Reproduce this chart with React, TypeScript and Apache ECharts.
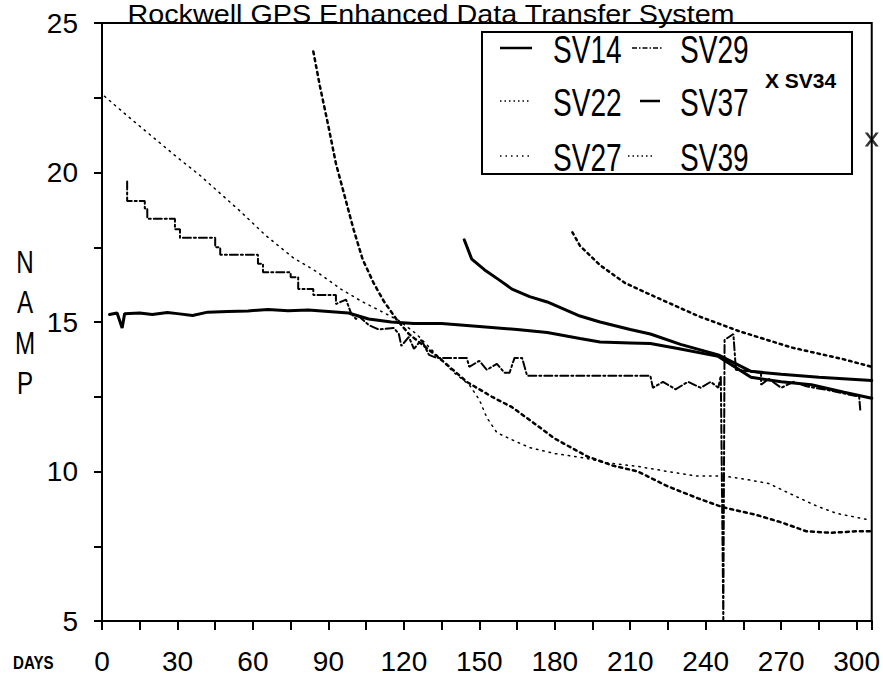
import React, { useEffect, useRef } from "react";
import * as echarts from "echarts";

const X_TICK_LABELS = [0, 30, 60, 90, 120, 150, 180, 210, 240, 270, 300];
const Y_TICK_LABELS = [5, 10, 15, 20, 25];
const TITLE = "Rockwell GPS Enhanced Data Transfer System";

const SV14: [number, number][] = [
  [3, 15.25], [6, 15.3], [8, 14.8], [9, 15.28], [15, 15.3], [20, 15.25], [26, 15.32], [30, 15.28],
  [36, 15.22], [42, 15.33], [50, 15.35], [58, 15.37], [66, 15.42], [74, 15.38], [82, 15.4], [90, 15.35],
  [98, 15.3], [106, 15.1], [115, 15.0], [124, 14.95], [135, 14.95], [150, 14.85], [165, 14.75],
  [177, 14.65], [190, 14.45], [198, 14.33], [210, 14.3], [218, 14.28], [230, 14.1], [245, 13.85],
  [258, 13.15], [270, 13.0], [282, 12.9], [295, 12.65], [306, 12.45],
];

const SV37: [number, number][] = [
  [144, 17.75], [147, 17.1], [152, 16.75], [158, 16.4], [163, 16.1], [170, 15.85], [177, 15.67],
  [190, 15.2], [198, 15.0], [210, 14.75], [218, 14.6], [230, 14.25], [245, 13.9], [258, 13.35],
  [270, 13.25], [285, 13.15], [306, 13.04],
];

const SV29: [number, number][] = [
  [10, 19.7], [10, 19.05], [17, 19.05], [17, 18.8], [18, 18.8], [18, 18.45], [29, 18.45], [29, 18.1],
  [31, 18.1], [31, 17.82], [45, 17.82], [45, 17.5], [47, 17.5], [47, 17.25], [62, 17.25], [62, 16.95],
  [64, 16.95], [64, 16.66], [75, 16.66], [75, 16.5], [78, 16.5], [78, 16.1], [84, 16.1], [84, 15.9],
  [93, 15.9], [93, 15.6], [97, 15.75], [99, 15.3], [101, 15.1], [102, 15.2], [106, 14.9], [110, 14.75],
  [116, 14.8], [118, 14.6], [119, 14.2], [122, 14.5], [124, 14.1], [127, 14.4], [130, 13.9], [133, 13.8],
  [145, 13.8], [146, 13.5], [150, 13.7], [153, 13.4], [157, 13.6], [160, 13.3], [162, 13.3], [164, 13.8],
  [167, 13.8], [169, 13.2], [218, 13.2], [219, 12.8], [223, 13.0], [228, 12.75], [233, 13.0], [238, 12.8],
  [242, 13.0], [245, 12.8], [246, 13.2], [247, 5.0], [247.5, 14.4], [251, 14.6], [252, 13.4], [262, 13.3],
  [262, 12.9], [265, 13.1], [270, 12.8], [275, 13.0], [280, 12.85], [290, 12.7], [301, 12.5], [301.5, 12.0],
];

const SV22: [number, number][] = [
  [84, 24.05], [86.6, 22.9], [90, 21.55], [93, 20.3], [96.5, 19.2], [100, 18.1], [103.6, 17.1],
  [108, 16.3], [112, 15.7], [117, 15.1], [122, 14.6], [128, 14.2], [134, 13.8], [145, 13.0],
  [155, 12.5], [163, 12.15], [172, 11.6], [180, 11.1], [193, 10.5], [203, 10.2], [213, 10.0],
  [225, 9.5], [237, 9.1], [247, 8.8], [260, 8.55], [270, 8.3], [280, 8.0], [290, 7.95], [300, 8.0],
  [306, 8.0],
];

const SV27: [number, number][] = [
  [1, 22.55], [10, 21.9], [20, 21.2], [30, 20.5], [39, 19.9], [47, 19.3], [55, 18.7], [65, 17.9],
  [76, 17.15], [85, 16.7], [95, 16.1], [103, 15.7], [110, 15.4], [118, 15.05], [125, 14.6], [133, 13.9],
  [140, 13.3], [146, 12.9], [150, 12.4], [153, 11.8], [157, 11.3], [163, 11.06], [170, 10.8],
  [180, 10.6], [192, 10.45], [200, 10.3], [213, 10.17], [225, 10.0], [236, 9.85], [247, 9.85],
  [255, 9.75], [265, 9.6], [275, 9.2], [284, 8.85], [292, 8.6], [304, 8.4],
];

const SV39: [number, number][] = [
  [187, 18.0], [190, 17.55], [198, 16.9], [208, 16.3], [221, 15.8], [237, 15.2], [253, 14.7],
  [274, 14.15], [295, 13.75], [306, 13.5],
];

const SV34: [number, number][] = [[306, 21.1]];

const FONT = '"Liberation Sans", Arial, sans-serif';
const X_PATH = "path://M0,0 L2.2,0 L5,3.6 L7.8,0 L10,0 L6.2,5 L10,10 L7.8,10 L5,6.4 L2.2,10 L0,10 L3.8,5 Z";

export default function App() {
  const ref = useRef<HTMLDivElement>(null);
  useEffect(() => {
    if (!ref.current) return;
    const chart = echarts.init(ref.current, null, { renderer: "svg" });
    const line = (name: string, data: [number, number][], width: number, type: any) => ({
      name,
      type: "line",
      data,
      showSymbol: false,
      symbol: "none",
      smooth: false,
      lineStyle: { color: "#000", width, type, cap: "round" },
      z: 3,
    });
    const txt = (text: string, x: number, y: number, font: string, scaleX = 1, align = "left") => ({
      type: "text",
      x,
      y,
      scaleX,
      style: {
        text,
        fill: "#000",
        font,
        textAlign: align,
        align,
        textVerticalAlign: "middle",
        verticalAlign: "middle",
      },
    });
    const sample = (x1: number, x2: number, y: number, lineDash: any, w = 2) => ({
      type: "line",
      shape: { x1, y1: y, x2, y2: y },
      style: { stroke: "#000", lineWidth: w, lineDash },
    });
    const LEG = `39px ${FONT}`;
    const LSX = 0.72;
    chart.setOption({
      animation: false,
      backgroundColor: "#fff",
      grid: { left: 102, right: 9, top: 23, bottom: 63, show: true, borderColor: "#000", borderWidth: 2 },
      xAxis: {
        type: "value",
        min: 0,
        max: 306,
        interval: 15,
        axisLine: { lineStyle: { color: "#000", width: 2 } },
        axisTick: { show: true, length: 9, lineStyle: { color: "#000", width: 2 } },
        splitLine: { show: false },
        axisLabel: {
          color: "#000",
          fontFamily: FONT,
          fontSize: 28,
          margin: 26,
          formatter: (v: number) => (X_TICK_LABELS.includes(v) ? String(v) : ""),
        },
      },
      yAxis: {
        type: "value",
        min: 5,
        max: 25,
        interval: 2.5,
        axisLine: { lineStyle: { color: "#000", width: 2 } },
        axisTick: { show: true, length: 8, lineStyle: { color: "#000", width: 2 } },
        splitLine: { show: false },
        axisLabel: {
          color: "#000",
          fontFamily: FONT,
          fontSize: 28,
          margin: 24,
          formatter: (v: number) => (Y_TICK_LABELS.includes(v) ? String(v) : ""),
        },
      },
      series: [
        line("SV14", SV14, 3, "solid"),
        line("SV29", SV29, 2, [8, 3, 2, 3]),
        line("SV22", SV22, 2.5, [3, 4]),
        line("SV37", SV37, 3, "solid"),
        line("SV27", SV27, 1.5, [1.5, 5]),
        line("SV39", SV39, 2.5, [2.5, 4]),
        {
          name: "SV34",
          type: "scatter",
          data: SV34,
          symbol: X_PATH,
          symbolSize: 14,
          itemStyle: { color: "#000" },
          clip: false,
          z: 4,
        },
      ],
      graphic: [
        txt(TITLE, 431, 14.5, `25px ${FONT}`, 1.15, "center"),
        ...["N", "A", "M", "P"].map((t, i) => txt(t, 25, 262 + i * 40.5, `31px ${FONT}`, 0.78, "center")),
        txt("DAYS", 13, 663, `bold 18px ${FONT}`, 0.84),
        {
          type: "rect",
          shape: { x: 482, y: 32, width: 370, height: 142 },
          style: { fill: "none", stroke: "#000", lineWidth: 2 },
        },
        sample(500, 532, 48, null, 2.5),
        txt("SV14", 553, 49, LEG, LSX),
        sample(632, 662, 48, [5, 2, 1.5, 2], 1.5),
        txt("SV29", 680, 49, LEG, LSX),
        sample(500, 530, 101, [1.5, 3], 1.5),
        txt("SV22", 553, 102, LEG, LSX),
        sample(640, 660, 101, null, 2.5),
        txt("SV37", 680, 102, LEG, LSX),
        sample(500, 530, 156, [1.5, 4], 1.5),
        txt("SV27", 553, 157, LEG, LSX),
        sample(628, 655, 156, [1.5, 3], 1.5),
        txt("SV39", 680, 157, LEG, LSX),
        txt("X SV34", 765, 80, `bold 21px ${FONT}`),
      ],
    });
    return () => chart.dispose();
  }, []);
  return <div ref={ref} style={{ position: "absolute", left: 0, top: 0, width: 883, height: 684 }} />;
}
